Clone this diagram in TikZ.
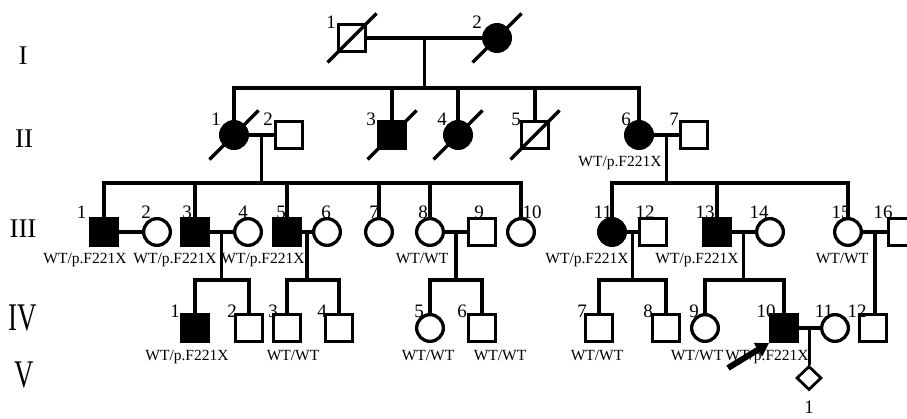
\documentclass[tikz,border=0pt]{standalone}
\usepackage{graphicx}
\usepackage{fontspec}
\setmainfont{Liberation Serif}
\usetikzlibrary{shapes.geometric,arrows.meta,calc}
\begin{document}
\begin{tikzpicture}[x=1pt,y=-1pt,line width=3.3pt,
  ind/.style={draw,inner sep=0pt,minimum size=26.7pt},
  male/.style={ind,rectangle},
  female/.style={ind,circle},
  unk/.style={draw,diamond,inner sep=0pt,minimum width=25pt,minimum height=24pt},
  aff/.style={fill=black},
  num/.style={inner sep=0pt,anchor=base,font=\fontsize{19}{19}\selectfont},
  geno/.style={inner sep=0pt,anchor=base,font=\fontsize{15.5}{15.5}\selectfont},
  gen/.style={inner sep=0pt,font=\fontsize{27}{27}\selectfont}]
\useasboundingbox (0,0) rectangle (907,418);
\fill[white] (0,0) rectangle (907,418);
\clip (0,0) rectangle (907,418);

% generation numerals
\node[gen] (gI)   at (23,56)  {I};
\node[gen] (gII)  at (24,139) {II};
\node[gen] (gIII) at (23,229) {III};
\node[gen] (gIV)  at (23,318) {\scalebox{1}[1.45]{IV}};
\node[gen] (gV)   at (24,375) {\scalebox{1}[1.45]{V}};

% sibship line levels
\coordinate (sII)  at (0,88);
\coordinate (sIII) at (0,183);
\coordinate (sIV)  at (0,280);

% ---------- generation I ----------
\node[male]       (i1) at (352,38) {};
\node[female,aff] (i2) at (497,38) {};

% ---------- generation II ----------
\node[female,aff] (ii1) at (234,135) {};
\node[male]       (ii2) at (289,135) {};
\node[male,aff]   (ii3) at (392,135) {};
\node[female,aff] (ii4) at (458,135) {};
\node[male]       (ii5) at (535,135) {};
\node[female,aff] (ii6) at (639,135) {};
\node[male]       (ii7) at (694,135) {};

% ---------- generation III ----------
\node[male,aff]   (iii1)  at (104,232) {};
\node[female]     (iii2)  at (157,232) {};
\node[male,aff]   (iii3)  at (195,232) {};
\node[female]     (iii4)  at (248,232) {};
\node[male,aff]   (iii5)  at (287,232) {};
\node[female]     (iii6)  at (327,232) {};
\node[female]     (iii7)  at (379,232) {};
\node[female]     (iii8)  at (430,232) {};
\node[male]       (iii9)  at (482,232) {};
\node[female]     (iii10) at (521,232) {};
\node[female,aff] (iii11) at (612,232) {};
\node[male]       (iii12) at (653,232) {};
\node[male,aff]   (iii13) at (717,232) {};
\node[female]     (iii14) at (770,232) {};
\node[female]     (iii15) at (848,232) {};
\node[male]       (iii16) at (902,232) {};

% ---------- generation IV ----------
\node[male,aff]   (iv1)  at (195,328) {};
\node[male]       (iv2)  at (249,328) {};
\node[male]       (iv3)  at (287,328) {};
\node[male]       (iv4)  at (339,328) {};
\node[female]     (iv5)  at (430,328) {};
\node[male]       (iv6)  at (482,328) {};
\node[male]       (iv7)  at (599,328) {};
\node[male]       (iv8)  at (666,328) {};
\node[female]     (iv9)  at (705,328) {};
\node[male,aff]   (iv10) at (784,328) {};
\node[female]     (iv11) at (835,328) {};
\node[male]       (iv12) at (873,328) {};

% ---------- generation V ----------
\node[unk,line width=2.8pt] (v1) at (809,378) {};

% deceased marks
\foreach \p in {i1,i2,ii1,ii3,ii4,ii5}
  \draw (\p) ++(-24.5,24.5) -- ++(49,-49);

% marriages and their midpoints
\foreach \a/\b/\m in {i1/i2/mI, ii1/ii2/mA, ii6/ii7/mB, iii1/iii2/mC, iii3/iii4/mD,
                      iii5/iii6/mE, iii8/iii9/mF, iii11/iii12/mG, iii13/iii14/mH,
                      iii15/iii16/mJ, iv10/iv11/mK} {
  \draw (\a) -- (\b);
  \coordinate (\m) at ($(\a)!0.5!(\b)$);
}

% descent lines
\draw (mI) -- (mI |- sII);
\draw (ii1.north) -- (ii1.north |- sII) -- (ii6.north |- sII) -- (ii6.north);
\foreach \c in {ii3,ii4,ii5} \draw (\c.north) -- (\c.north |- sII);

\draw (mA) -- (mA |- sIII);
\draw (iii1.north) -- (iii1.north |- sIII) -- (iii10.north |- sIII) -- (iii10.north);
\foreach \c in {iii3,iii5,iii7,iii8} \draw (\c.north) -- (\c.north |- sIII);

\draw (mB) -- (mB |- sIII);
\draw (iii11.north) -- (iii11.north |- sIII) -- (iii15.north |- sIII) -- (iii15.north);
\draw (iii13.north) -- (iii13.north |- sIII);

\foreach \m/\a/\b in {mD/iv1/iv2, mE/iv3/iv4, mF/iv5/iv6, mG/iv7/iv8, mH/iv9/iv10} {
  \draw (\m) -- (\m |- sIV);
  \draw (\a.north) -- (\a.north |- sIV) -- (\b.north |- sIV) -- (\b.north);
}
\draw (mJ) -- (mJ |- iv12.north);
\draw (mK) -- (mK |- v1.north);

% individual numbers
\node[num] at (331,28) {1};
\node[num] at (477,28) {2};
\foreach \x/\t in {216/1,268/2,371/3,442/4,516/5,626/6,674/7}
  \node[num] at (\x,125) {\t};
\foreach \x/\t in {81.5/1,146/2,187/3,243/4,281/5,326/6,374/7,423/8,479/9,532/10,
                   603/11,645/12,705/13,759/14,841/15,883/16}
  \node[num] at (\x,218) {\t};
\foreach \x/\t in {175/1,232/2,273/3,322/4,419/5,462/6,582/7,648/8,694/9,766/10,824/11,857/12}
  \node[num] at (\x,317) {\t};
\node[num] at (809,413) {1};

% genotypes
\node[geno] at (620,166) {WT/p.F221X};
\foreach \x/\t in {85/WT\slash p.F221X, 175/WT\slash p.F221X, 263/WT\slash p.F221X,
                   422/WT\slash WT, 587/WT\slash p.F221X, 697/WT\slash p.F221X, 842/WT\slash WT}
  \node[geno] at (\x,263) {\t};
\foreach \x/\t in {187/WT\slash p.F221X, 293/WT\slash WT, 428/WT\slash WT, 500/WT\slash WT,
                   597/WT\slash WT, 697/WT\slash WT, 767/WT\slash p.F221X}
  \node[geno] at (\x,360) {\t};

% proband arrow
\coordinate (arrtail) at (728,368);
\draw[line width=6pt,-{Triangle[length=13pt,width=15pt]}] (arrtail) -- (iv10.south west);
\end{tikzpicture}
\end{document}
